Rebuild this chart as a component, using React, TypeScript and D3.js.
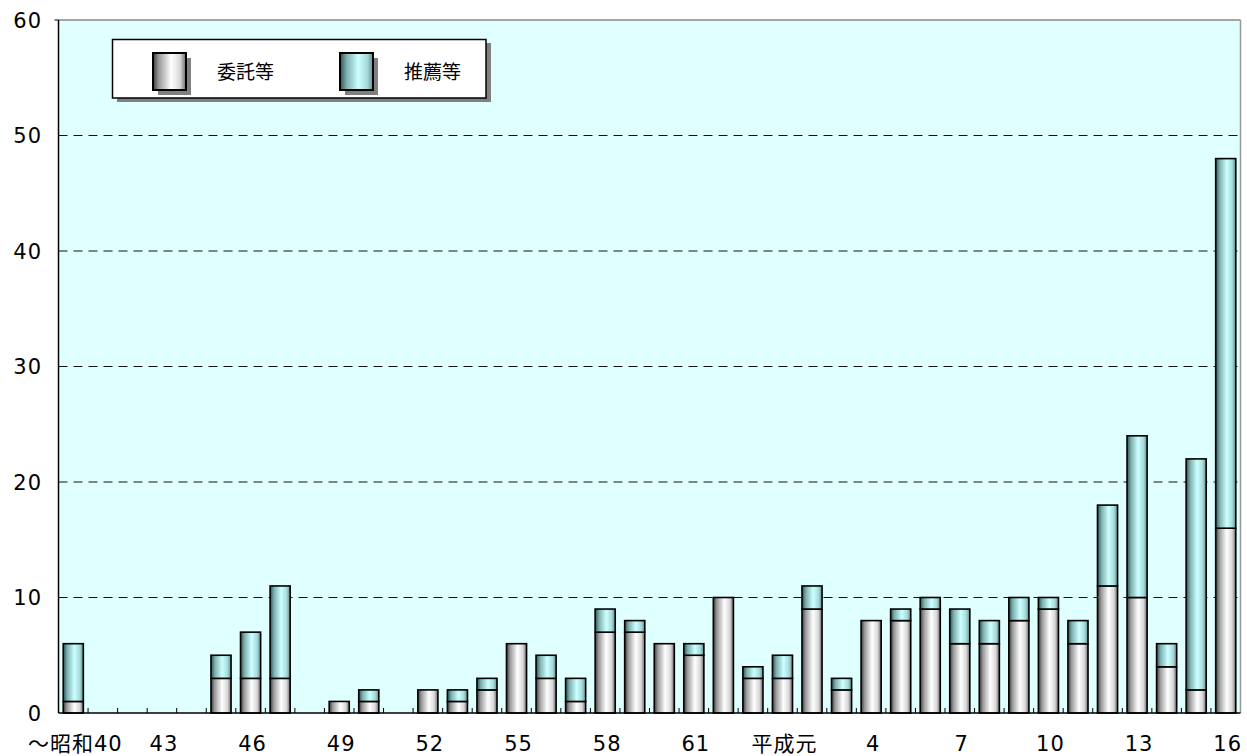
import React from "react";
import * as d3 from "d3";

const categories = [
  "～昭和40", "41", "42", "43", "44", "45", "46", "47", "48", "49",
  "50", "51", "52", "53", "54", "55", "56", "57", "58", "59",
  "60", "61", "62", "63", "平成元", "2", "3", "4", "5", "6",
  "7", "8", "9", "10", "11", "12", "13", "14", "15", "16",
];
// 委託等
const itaku = [
  1, 0, 0, 0, 0, 3, 3, 3, 0, 1,
  1, 0, 2, 1, 2, 6, 3, 1, 7, 7,
  6, 5, 10, 3, 3, 9, 2, 8, 8, 9,
  6, 6, 8, 9, 6, 11, 10, 4, 2, 16,
];
// 推薦等
const suisen = [
  5, 0, 0, 0, 0, 2, 4, 8, 0, 0,
  1, 0, 0, 1, 1, 0, 2, 2, 2, 1,
  0, 1, 0, 1, 2, 2, 1, 0, 1, 1,
  3, 2, 2, 1, 2, 7, 14, 2, 20, 32,
];
const labelIdx = [0, 3, 6, 9, 12, 15, 18, 21, 24, 27, 30, 33, 36, 39];
const yTicks = [0, 10, 20, 30, 40, 50, 60];
const seriesNames = ["委託等", "推薦等"];

const W = 1247;
const H = 756;
const left = 58.5;
const right = 1240.5;
const top = 20;
const bottom = 713;
const font = "'DejaVu Sans', 'Noto Sans CJK JP', sans-serif";
const cjkFont = "'Noto Sans CJK JP', sans-serif";

export default function App() {
  const x = d3.scaleBand<number>().domain(d3.range(categories.length)).range([left, right]).paddingInner(0.32).paddingOuter(0.16);
  const step = (right - left) / categories.length;
  const y = d3.scaleLinear().domain([0, 60]).range([bottom, top]);
  const bw = x.bandwidth();

  return (
    <svg width={W} height={H} style={{ position: "absolute", left: 0, top: 0, background: "#fff" }}>
      <defs>
        <linearGradient id="gW" x1="0" x2="1" y1="0" y2="0">
          <stop offset="0" stopColor="#3a3a3a" />
          <stop offset="0.18" stopColor="#9a9a9a" />
          <stop offset="0.55" stopColor="#ffffff" />
          <stop offset="0.82" stopColor="#d8d8d8" />
          <stop offset="1" stopColor="#6a6a6a" />
        </linearGradient>
        <linearGradient id="gC" x1="0" x2="1" y1="0" y2="0">
          <stop offset="0" stopColor="#2c5252" />
          <stop offset="0.2" stopColor="#7fb0b0" />
          <stop offset="0.55" stopColor="#ccffff" />
          <stop offset="0.82" stopColor="#a8dcdc" />
          <stop offset="1" stopColor="#5e8e8e" />
        </linearGradient>
      </defs>

      {/* plot area */}
      <rect x={left} y={top} width={right - left} height={bottom - top} fill="#e0ffff" />
      <line x1={left} x2={right} y1={top} y2={top} stroke="#888" strokeWidth={1.5} />
      <line x1={right} x2={right} y1={top} y2={bottom} stroke="#999" strokeWidth={1.5} />

      {yTicks.filter((t) => t > 0 && t < 60).map((t) => (
        <line key={t} x1={left} x2={right} y1={y(t)} y2={y(t)} stroke="#111" strokeWidth={1} strokeDasharray="9,6" />
      ))}

      {/* x ticks */}
      {d3.range(1, categories.length).map((i) => (
        <line key={i} x1={left + i * step} x2={left + i * step} y1={bottom} y2={bottom - 5} stroke="#000" strokeWidth={1} />
      ))}

      {/* bars */}
      {categories.map((c, i) => {
        const a = itaku[i];
        const b = suisen[i];
        if (a + b === 0) return null;
        const bx = x(i)!;
        return (
          <g key={c}>
            {a > 0 && (
              <rect x={bx} y={y(a)} width={bw} height={y(0) - y(a)} fill="url(#gW)" stroke="#000" strokeWidth={1.6} />
            )}
            {b > 0 && (
              <rect x={bx} y={y(a + b)} width={bw} height={y(a) - y(a + b)} fill="url(#gC)" stroke="#000" strokeWidth={1.6} />
            )}
          </g>
        );
      })}

      {/* axes */}
      <line x1={left} x2={left} y1={top} y2={bottom} stroke="#000" strokeWidth={1.5} />
      <line x1={left - 4} x2={left} y1={top} y2={top} stroke="#000" strokeWidth={1} />
      <line x1={left} x2={right} y1={bottom} y2={bottom} stroke="#000" strokeWidth={1.6} />

      {yTicks.map((t) => (
        <text key={t} x={42} y={y(t)} dy="0.36em" textAnchor="end" fontFamily={font} fontSize={21} letterSpacing={1} fill="#000">
          {t}
        </text>
      ))}
      {labelIdx.map((i) => (
        <text key={i} x={x(i)! + bw / 2 + 2} y={751} textAnchor="middle" fontFamily={font} fontSize={21} letterSpacing={1} fill="#000">
          {categories[i]}
        </text>
      ))}

      {/* legend */}
      <rect x={117} y={43} width={374} height={59} fill="#808080" />
      <rect x={112.5} y={39.5} width={373.5} height={58.5} fill="#fff" stroke="#000" strokeWidth={1.5} />
      {seriesNames.map((s, k) => {
        const sx = k === 0 ? 153 : 340;
        return (
          <g key={s}>
            <rect x={sx + 5} y={58} width={33} height={37} fill="#808080" />
            <rect x={sx} y={53} width={33} height={37} fill={k === 0 ? "url(#gW)" : "url(#gC)"} stroke="#000" strokeWidth={2} />
            <text x={sx + 64} y={72} dy="0.36em" fontFamily={cjkFont} fontSize={19} fill="#000">
              {s}
            </text>
          </g>
        );
      })}
    </svg>
  );
}
